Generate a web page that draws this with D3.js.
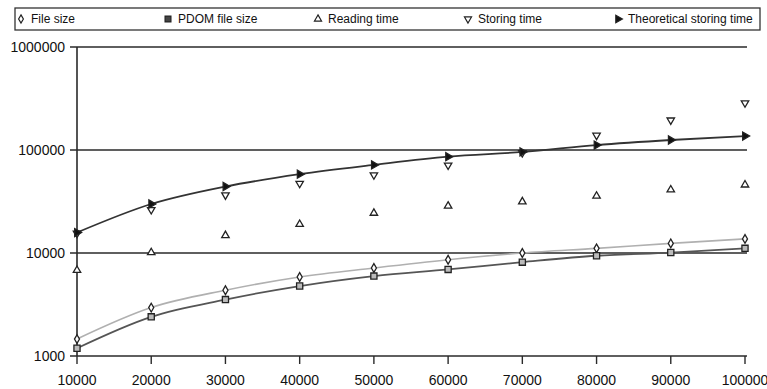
<!DOCTYPE html>
<html>
<head>
<meta charset="utf-8">
<script src="https://cdn.jsdelivr.net/npm/d3@7"></script>
<style>
  body { margin: 0; background: #fff; }
  text { font-family: 'Liberation Sans', Arial, sans-serif; fill: #111; }
</style>
</head>
<body>
<div id="chart"></div>
<script>
let width = 767
let height = 389

// data
let sizes = [10000, 20000, 30000, 40000, 50000, 60000, 70000, 80000, 90000, 100000]
let fileSize = [1460, 2950, 4350, 5850, 7150, 8600, 10000, 11100, 12400, 13700]
let pdomSize = [1190, 2400, 3530, 4780, 5970, 6930, 8150, 9400, 10100, 11100]
let readingTime = [6800, 10100, 14800, 19000, 24400, 28600, 31500, 35700, 41100, 45900]
let storingTime = [15500, 26300, 36500, 47300, 57200, 71200, 94000, 138700, 195000, 286000]
let theoreticalTime = [15800, 29900, 44200, 58200, 71600, 86100, 95700, 111700, 125000, 136600]
let yTicks = [1000, 10000, 100000, 1000000]
let legendNames = ['File size', 'PDOM file size', 'Reading time', 'Storing time', 'Theoretical storing time']

let svg = d3
  .select('#chart')
  .append('svg')
  .attr('width', width)
  .attr('height', height)

let x = d3.scaleLinear().domain([10000, 100000]).range([77, 745])
let y = d3.scaleLog().domain([1000, 1000000]).range([356, 47])

// gridlines + y labels
svg
  .selectAll('.grid')
  .data(yTicks)
  .enter()
  .append('line')
  .attr('class', 'grid')
  .attr('x1', 70)
  .attr('x2', 747)
  .attr('y1', d => y(d))
  .attr('y2', d => y(d))
  .attr('stroke', '#2a2a2a')
  .attr('stroke-width', 1.6)

svg
  .selectAll('.ylabel')
  .data(yTicks)
  .enter()
  .append('text')
  .attr('x', 65)
  .attr('y', d => y(d))
  .attr('dy', '0.35em')
  .attr('text-anchor', 'end')
  .attr('font-size', 14)
  .text(d => d)

// y axis line
svg
  .append('line')
  .attr('x1', 77)
  .attr('x2', 77)
  .attr('y1', y(1000000))
  .attr('y2', y(1000))
  .attr('stroke', '#2a2a2a')
  .attr('stroke-width', 1.6)

// x ticks
svg
  .selectAll('.xtick')
  .data(sizes)
  .enter()
  .append('line')
  .attr('x1', d => x(d))
  .attr('x2', d => x(d))
  .attr('y1', 356)
  .attr('y2', 364)
  .attr('stroke', '#2a2a2a')
  .attr('stroke-width', 1.4)

svg
  .selectAll('.xlabel')
  .data(sizes)
  .enter()
  .append('text')
  .attr('x', d => x(d))
  .attr('y', 385)
  .attr('text-anchor', 'middle')
  .attr('font-size', 14)
  .text(d => d)

// lines
let line = d3
  .line()
  .x((d, i) => x(sizes[i]))
  .y(d => y(d))
  .curve(d3.curveMonotoneX)

svg.append('path').datum(fileSize).attr('d', line).attr('fill', 'none').attr('stroke', '#b0b0b0').attr('stroke-width', 1.6)
svg.append('path').datum(pdomSize).attr('d', line).attr('fill', 'none').attr('stroke', '#555').attr('stroke-width', 1.8)
svg.append('path').datum(theoreticalTime).attr('d', line).attr('fill', 'none').attr('stroke', '#333').attr('stroke-width', 1.8)

// markers
let shapes = {
  diamond: { type: d3.symbolDiamond, size: 22, fill: '#fff', rot: 0 },
  square: { type: d3.symbolSquare, size: 38, fill: '#bbb', rot: 0 },
  up: { type: d3.symbolTriangle, size: 24, fill: '#fff', rot: 0 },
  down: { type: d3.symbolTriangle, size: 24, fill: '#fff', rot: 180 },
  right: { type: d3.symbolTriangle, size: 28, fill: '#111', rot: 90 }
}

function drawMarkers(values, s) {
  svg
    .append('g')
    .selectAll('path')
    .data(values)
    .enter()
    .append('path')
    .attr('d', d3.symbol().type(s.type).size(s.size))
    .attr('transform', (d, i) => `translate(${x(sizes[i])},${y(d)}) rotate(${s.rot})`)
    .attr('fill', s.fill)
    .attr('stroke', '#222')
    .attr('stroke-width', 1.3)
}

drawMarkers(fileSize, shapes.diamond)
drawMarkers(pdomSize, shapes.square)
drawMarkers(readingTime, shapes.up)
drawMarkers(storingTime, shapes.down)
drawMarkers(theoreticalTime, shapes.right)

// legend
svg
  .append('rect')
  .attr('x', 15)
  .attr('y', 8)
  .attr('width', 745)
  .attr('height', 22)
  .attr('fill', 'none')
  .attr('stroke', '#333')
  .attr('stroke-width', 1.3)

let legendShapes = [shapes.diamond, shapes.square, shapes.up, shapes.down, shapes.right]
let legendX = [21, 168, 318, 468, 618]

let legend = svg
  .selectAll('.legend-entry')
  .data(legendNames)
  .enter()
  .append('g')
  .attr('class', 'legend-entry')
  .attr('transform', (d, i) => `translate(${legendX[i]},19)`)

legend
  .append('path')
  .attr('d', (d, i) => d3.symbol().type(legendShapes[i].type).size(legendShapes[i].size * 0.9)())
  .attr('transform', (d, i) => `rotate(${legendShapes[i].rot})`)
  .attr('fill', (d, i) => (i === 1 ? '#444' : legendShapes[i].fill))
  .attr('stroke', '#222')
  .attr('stroke-width', 1.2)

legend
  .append('text')
  .attr('x', 10)
  .attr('dy', '0.35em')
  .attr('font-size', 12)
  .text(d => d)
</script>
</body>
</html>
